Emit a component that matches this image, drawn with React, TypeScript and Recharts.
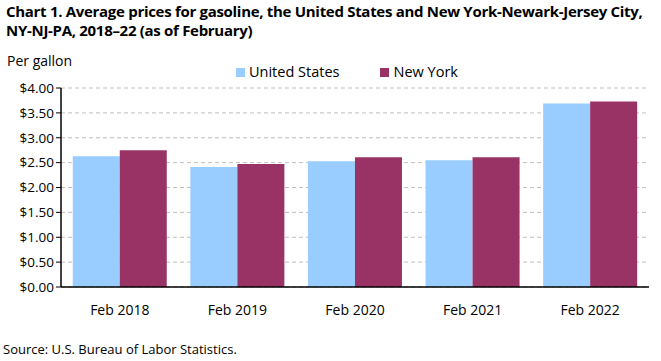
import React from 'react';
import { BarChart, Bar, XAxis, YAxis, CartesianGrid } from 'recharts';

const categories = ['Feb 2018', 'Feb 2019', 'Feb 2020', 'Feb 2021', 'Feb 2022'];
const unitedStates = [2.63, 2.41, 2.53, 2.55, 3.69];
const newYork = [2.75, 2.47, 2.61, 2.61, 3.73];
const yTicks = [0, 0.5, 1, 1.5, 2, 2.5, 3, 3.5, 4];
const seriesNames = ['United States', 'New York'];
const seriesColors = ['#99ccff', '#993366'];

const FONT = '"Open Sans", Lato, sans-serif';

export default function App() {
  const chartData = categories.map((name, i) => ({
    name,
    'United States': unitedStates[i],
    'New York': newYork[i],
  }));

  return (
    <div style={{ position: 'absolute', left: 0, top: 0, width: 661, height: 361, background: '#fff', fontFamily: FONT, color: '#000' }}>
      <div style={{ position: 'absolute', left: 6, top: 2, fontSize: 15, letterSpacing: -0.3, fontWeight: 700, lineHeight: '19px', whiteSpace: 'nowrap' }}>
        Chart 1. Average prices for gasoline, the United States and New York-Newark-Jersey City,
        <br />
        NY-NJ-PA, 2018–22 (as of February)
      </div>
      <div style={{ position: 'absolute', left: 7, top: 51, fontSize: 14 }}>Per gallon</div>
      {/* legend */}
      <div style={{ position: 'absolute', left: 236, top: 62, display: 'flex', fontSize: 14.5, lineHeight: '20px' }}>
        {seriesNames.map((s, i) => (
          <div key={s} style={{ display: 'flex', alignItems: 'center', marginRight: 41 }}>
            <span style={{ display: 'inline-block', width: 9, height: 9, background: seriesColors[i], marginRight: 4 }} />
            {s}
          </div>
        ))}
      </div>
      <BarChart
        width={661}
        height={361}
        data={chartData}
        barCategoryGap="10%"
        barGap={0}
        margin={{ top: 88, right: 12, bottom: 44, left: 0 }}
      >
        <CartesianGrid vertical={false} stroke="#bfbfbf" strokeDasharray="4 3" />
        <XAxis
          dataKey="name"
          height={30}
          tickLine={false}
          axisLine={{ stroke: '#000', strokeWidth: 1.5 }}
          tick={{ fill: '#000', fontSize: 14, fontFamily: FONT }}
          tickMargin={12}
        />
        <XAxis xAxisId="top" orientation="top" dataKey="name" height={0} tick={false} tickLine={false} axisLine={{ stroke: '#bfbfbf' }} />
        <YAxis
          domain={[0, 4]}
          ticks={yTicks}
          interval={0}
          width={61}
          tickSize={5}
          tickLine={{ stroke: '#000' }}
          axisLine={{ stroke: '#000', strokeWidth: 1.5 }}
          tick={{ fill: '#000', fontSize: 13.5, fontFamily: FONT }}
          tickFormatter={(v: number) => `$${v.toFixed(2)}`}
        />
        <YAxis yAxisId="right" orientation="right" width={0} domain={[0, 4]} tick={false} tickLine={false} axisLine={{ stroke: '#bfbfbf' }} />
        <Bar dataKey="United States" fill={seriesColors[0]} isAnimationActive={false} />
        <Bar dataKey="New York" fill={seriesColors[1]} isAnimationActive={false} />
      </BarChart>
      <div style={{ position: 'absolute', left: 3, top: 340, fontSize: 13 }}>Source: U.S. Bureau of Labor Statistics.</div>
    </div>
  );
}
